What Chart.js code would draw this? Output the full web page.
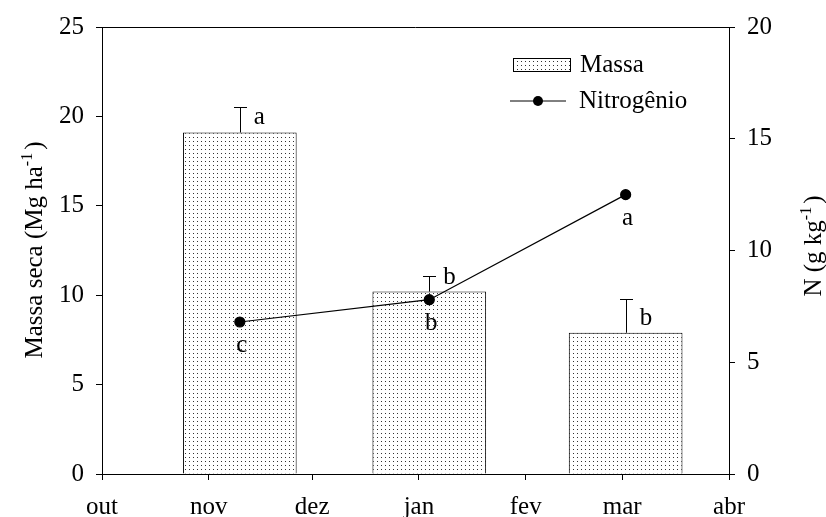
<!DOCTYPE html>
<html>
<head>
<meta charset="utf-8">
<script src="https://cdn.jsdelivr.net/npm/chart.js@4.4.1/dist/chart.umd.min.js"></script>
<style>
  html, body { margin: 0; padding: 0; background: #fff; }
  #wrap { width: 826px; height: 517px; }
</style>
</head>
<body>
<div id="wrap"><canvas id="chart"></canvas></div>
<script>
// x axis: days counted from the first month tick
const axisStart = '2006-10-01';
const monthStarts = ['2006-10-01', '2006-11-01', '2006-12-01', '2007-01-01', '2007-02-01', '2007-03-01', '2007-04-01'];
const monthLabels = ['out', 'nov', 'dez', 'jan', 'fev', 'mar', 'abr'];
const sampleDates = ['2006-11-10', '2007-01-04', '2007-03-02'];

// Massa seca (Mg ha-1)
const massa = [19.1, 10.2, 7.9];
const massaErr = [1.4, 0.9, 1.9];
const massaLetters = ['a', 'b', 'b'];

// N (g kg-1)
const nitrogenio = [6.8, 7.8, 12.5];
const nitrogenioLetters = ['c', 'b', 'a'];

const massaTicks = [0, 5, 10, 15, 20, 25];
const nTicks = [0, 5, 10, 15, 20];

const FONT = '"Liberation Serif", "Times New Roman", serif';
const FONT_SIZE = 25;
const toDay = d => (Date.parse(d) - Date.parse(axisStart)) / 86400000;

// bars are ~33 days wide; chart.js sizes them from the shortest tick gap (28 days)
const BAR_DAYS = 33;

function dotPattern() {
    const c = document.createElement('canvas');
    c.width = 4;
    c.height = 4;
    const g = c.getContext('2d');
    g.fillStyle = '#fff';
    g.fillRect(0, 0, 4, 4);
    g.fillStyle = '#333';
    g.fillRect(1, 1, 1, 1);
    return g.createPattern(c, 'repeat');
}
const pattern = dotPattern();

function drawRotatedTitle(ctx, x, yCenter, main, sup, tail, size) {
    ctx.save();
    ctx.translate(x, yCenter);
    ctx.rotate(-Math.PI / 2);
    const f = size + 'px ' + FONT;
    const fs = Math.round(size * 0.62) + 'px ' + FONT;
    ctx.font = f;
    const w1 = ctx.measureText(main).width;
    const w3 = ctx.measureText(tail).width;
    ctx.font = fs;
    const w2 = ctx.measureText(sup).width + 3;
    let cx = -(w1 + w2 + w3) / 2;
    ctx.fillStyle = '#000';
    ctx.textAlign = 'left';
    ctx.textBaseline = 'alphabetic';
    ctx.font = f;
    ctx.fillText(main, cx, 0);
    cx += w1;
    ctx.font = fs;
    ctx.fillText(sup, cx, -size * 0.42);
    cx += w2;
    ctx.font = f;
    ctx.fillText(tail, cx, 0);
    ctx.restore();
}

// error bars on top of the bars
const errorBars = {
    id: 'errorBars',
    afterDatasetDraw(chart, args) {
        if (args.index !== 0) return;
        const { ctx, scales: { x, y } } = chart;
        ctx.save();
        ctx.strokeStyle = '#000';
        ctx.lineWidth = 1;
        massa.forEach((v, i) => {
            const px = Math.round(x.getPixelForValue(toDay(sampleDates[i]))) + 0.5;
            const top = y.getPixelForValue(v);
            const end = Math.round(y.getPixelForValue(v + massaErr[i])) + 0.5;
            ctx.beginPath();
            ctx.moveTo(px, top);
            ctx.lineTo(px, end);
            ctx.moveTo(px - 6.5, end);
            ctx.lineTo(px + 6.5, end);
            ctx.stroke();
        });
        ctx.restore();
    }
};

// frame top, letters, axis titles and legend
const decorations = {
    id: 'decorations',
    afterDraw(chart) {
        const { ctx, chartArea: a, scales: { x, y, y2 } } = chart;
        ctx.save();
        ctx.strokeStyle = '#000';
        ctx.lineWidth = 1;
        ctx.beginPath();
        ctx.moveTo(a.left, Math.round(a.top) + 0.5);
        ctx.lineTo(a.right, Math.round(a.top) + 0.5);
        ctx.stroke();

        ctx.fillStyle = '#000';
        ctx.font = FONT_SIZE + 'px ' + FONT;
        ctx.textBaseline = 'alphabetic';
        ctx.textAlign = 'left';
        massa.forEach((v, i) => {
            const px = x.getPixelForValue(toDay(sampleDates[i]));
            ctx.fillText(massaLetters[i], px + 14, y.getPixelForValue(v) - 8);
        });
        ctx.textAlign = 'center';
        nitrogenio.forEach((v, i) => {
            const px = x.getPixelForValue(toDay(sampleDates[i]));
            ctx.fillText(nitrogenioLetters[i], px + 2, y2.getPixelForValue(v) + 30);
        });

        drawRotatedTitle(ctx, 42, 250, 'Massa seca (Mg ha', '-1', ')', FONT_SIZE);
        drawRotatedTitle(ctx, 821, 246, 'N (g kg', '-1', ')', FONT_SIZE);

        // legend
        ctx.fillStyle = pattern;
        ctx.fillRect(513.5, 58.5, 57, 13);
        ctx.strokeRect(513.5, 58.5, 57, 13);
        ctx.beginPath();
        ctx.moveTo(510, 101);
        ctx.lineTo(566, 101);
        ctx.stroke();
        ctx.fillStyle = '#000';
        ctx.beginPath();
        ctx.arc(538, 101, 5, 0, Math.PI * 2);
        ctx.fill();
        ctx.textAlign = 'left';
        ctx.font = FONT_SIZE + 'px ' + FONT;
        ctx.fillText('Massa', 580, 72);
        ctx.fillText('Nitrogênio', 579, 108);
        ctx.restore();
    }
};

const axisGrid = { display: true, drawOnChartArea: false, drawTicks: true, tickLength: 6, color: '#000', lineWidth: 1, offset: false };
const axisBorder = { display: true, color: '#000', width: 1 };
const tickFont = { family: FONT, size: FONT_SIZE };

new Chart(document.getElementById('chart'), {
    type: 'bar',
    data: {
        datasets: [
            {
                label: 'Massa',
                data: sampleDates.map((d, i) => ({ x: toDay(d), y: massa[i] })),
                backgroundColor: pattern,
                borderColor: '#000',
                borderWidth: 1,
                categoryPercentage: 1,
                barPercentage: BAR_DAYS / 28,
                yAxisID: 'y',
                order: 1
            },
            {
                type: 'line',
                label: 'Nitrogênio',
                data: sampleDates.map((d, i) => ({ x: toDay(d), y: nitrogenio[i] })),
                borderColor: '#000',
                borderWidth: 1.2,
                pointRadius: 5,
                pointBackgroundColor: '#000',
                pointBorderColor: '#000',
                tension: 0,
                fill: false,
                yAxisID: 'y2',
                order: 0
            }
        ]
    },
    options: {
        responsive: true,
        maintainAspectRatio: false,
        animation: false,
        events: [],
        layout: { padding: { top: 23, left: 0, right: 0, bottom: 0 } },
        plugins: { legend: { display: false }, tooltip: { enabled: false } },
        scales: {
            x: {
                type: 'linear',
                min: toDay(monthStarts[0]),
                max: toDay(monthStarts[monthStarts.length - 1]),
                offset: false,
                grid: axisGrid,
                border: axisBorder,
                afterBuildTicks: scale => {
                    scale.ticks = monthStarts.map(d => ({ value: toDay(d) }));
                },
                afterFit: scale => { scale.height = 43; },
                ticks: {
                    autoSkip: false,
                    maxRotation: 0,
                    padding: 12,
                    color: '#000',
                    font: tickFont,
                    callback: (value, index) => monthLabels[index]
                }
            },
            y: {
                position: 'left',
                min: 0,
                max: 25,
                grid: axisGrid,
                border: axisBorder,
                afterBuildTicks: scale => {
                    scale.ticks = massaTicks.map(v => ({ value: v }));
                },
                afterFit: scale => { scale.width = 102; },
                ticks: { padding: 12, color: '#000', font: tickFont }
            },
            y2: {
                position: 'right',
                min: 0,
                max: 20,
                grid: axisGrid,
                border: axisBorder,
                afterBuildTicks: scale => {
                    scale.ticks = nTicks.map(v => ({ value: v }));
                },
                afterFit: scale => { scale.width = 97; },
                ticks: { padding: 12, color: '#000', font: tickFont }
            }
        }
    },
    plugins: [errorBars, decorations]
});
</script>
</body>
</html>
